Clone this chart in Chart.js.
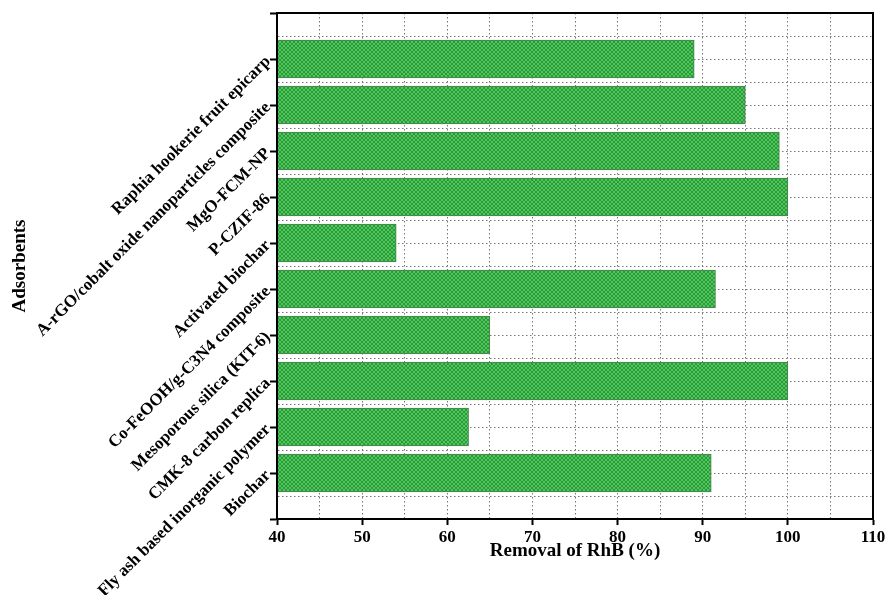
<!DOCTYPE html>
<html>
<head>
<meta charset="utf-8">
<script src="https://cdn.jsdelivr.net/npm/chart.js@4.4.1/dist/chart.umd.min.js"></script>
<style>
  html, body { margin: 0; padding: 0; background: #fff; }
  #wrap { width: 887px; height: 595px; position: relative; }
</style>
</head>
<body>
<div id="wrap"><canvas id="chart"></canvas></div>
<script>
// Adsorbents, top to bottom as in the figure
const adsorbents = [
  'Raphia hookerie fruit epicarp',
  'A-rGO/cobalt oxide nanoparticles composite',
  'MgO-FCM-NP',
  'P-CZIF-86',
  'Activated biochar',
  'Co-FeOOH/g-C3N4 composite',
  'Mesoporous silica (KIT-6)',
  'CMK-8 carbon replica',
  'Fly ash based inorganic polymer',
  'Biochar'
];

// Removal of RhB (%)
const removal = [89, 95, 99, 100, 54, 91.5, 65, 100, 62.5, 91];

// x axis range and steps
const xMin = 40;
const xMax = 110;
const xMinorStep = 5;
const xMajorStep = 10;

const serif = "'Liberation Serif', 'Times New Roman', serif";

// green cross-hatched fill like the original bars
function hatchPattern() {
  const c = document.createElement('canvas');
  c.width = 4;
  c.height = 4;
  const g = c.getContext('2d');
  g.fillStyle = '#50c65c';
  g.fillRect(0, 0, 4, 4);
  g.fillStyle = '#2b9a39';
  for (let i = 0; i < 4; i++) {
    g.fillRect(i, i, 1, 1);
    g.fillRect(3 - i, i, 1, 1);
  }
  return g.createPattern(c, 'repeat');
}

// top and right edges of the frame
const framePlugin = {
  id: 'frame',
  afterDraw(chart) {
    const {ctx, chartArea: a} = chart;
    ctx.save();
    ctx.strokeStyle = '#000';
    ctx.lineWidth = 2;
    ctx.beginPath();
    ctx.moveTo(a.left, a.top);
    ctx.lineTo(a.right, a.top);
    ctx.lineTo(a.right, a.bottom);
    ctx.stroke();
    ctx.restore();
  }
};

const isMajorX = (ctx) => ctx.tick && ctx.tick.value % xMajorStep === 0;
const isLabelY = (ctx) => ctx.tick && Number.isInteger(ctx.tick.value);

new Chart(document.getElementById('chart'), {
  type: 'bar',
  data: {
    datasets: [{
      data: removal.map((v, i) => ({x: v, y: i + 1})),
      base: xMin,
      backgroundColor: hatchPattern(),
      borderColor: '#4b7f52',
      borderWidth: 1,
      borderSkipped: 'start',
      barThickness: 38
    }]
  },
  options: {
    indexAxis: 'y',
    responsive: true,
    maintainAspectRatio: false,
    animation: false,
    layout: { padding: { top: 13, right: 14, bottom: 33, left: 0 } },
    plugins: {
      legend: { display: false },
      tooltip: { enabled: false }
    },
    scales: {
      x: {
        type: 'linear',
        min: xMin,
        max: xMax,
        offset: false,
        ticks: {
          stepSize: xMinorStep,
          autoSkip: false,
          maxRotation: 0,
          padding: 2,
          color: '#000',
          font: { family: serif, size: 17, weight: 'bold' },
          callback: (v) => (v % xMajorStep === 0 ? v : '')
        },
        grid: {
          offset: false,
          color: '#777',
          lineWidth: 1,
          tickLength: 6,
          tickWidth: 2,
          tickColor: (ctx) => (isMajorX(ctx) ? '#000' : 'rgba(0,0,0,0)'),
          tickBorderDash: []
        },
        border: { color: '#000', width: 2, dash: [1.5, 2.5], z: 1 },
        title: {
          display: true,
          text: 'Removal of RhB (%)',
          color: '#000',
          font: { family: serif, size: 19, weight: 'bold' },
          padding: { top: 0, bottom: 0 }
        },
        afterFit: (s) => {
          s.height = 43;
          s.paddingLeft = 0;
          s.paddingRight = 0;
        }
      },
      y: {
        type: 'linear',
        reverse: true,
        offset: false,
        min: 0,
        max: adsorbents.length + 1,
        ticks: {
          stepSize: 0.5,
          maxTicksLimit: 100,
          autoSkip: false,
          minRotation: 45,
          maxRotation: 45,
          padding: 2,
          color: '#000',
          font: { family: serif, size: 17, weight: 'bold' },
          callback: (v) => (Number.isInteger(v) && v >= 1 && v <= adsorbents.length ? adsorbents[v - 1] : '')
        },
        grid: {
          offset: false,
          color: '#777',
          lineWidth: 1,
          tickLength: 7,
          tickWidth: 2,
          tickColor: (ctx) => (isLabelY(ctx) ? '#000' : 'rgba(0,0,0,0)'),
          tickBorderDash: []
        },
        border: { color: '#000', width: 2, dash: [1.5, 2.5], z: 1 },
        title: {
          display: true,
          text: 'Adsorbents',
          color: '#000',
          font: { family: serif, size: 19, weight: 'bold' },
          padding: { top: 9, bottom: 0 }
        },
        afterFit: (s) => {
          s.width = 277;
          s.paddingTop = 0;
          s.paddingBottom = 0;
        }
      }
    }
  },
  plugins: [framePlugin]
});
</script>
</body>
</html>
